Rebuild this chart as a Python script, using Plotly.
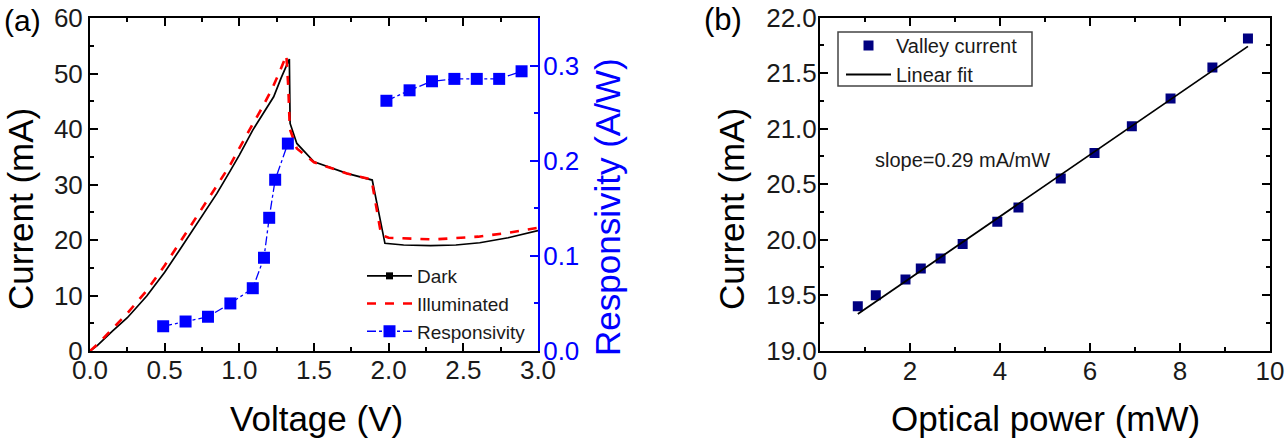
import plotly.graph_objects as go

# ---------------- data: panel (a) ----------------
v_dark = [0, 0.05, 0.15, 0.25, 0.38, 0.5, 0.6, 0.7, 0.78, 0.85, 0.94, 1.0, 1.09, 1.15, 1.23,
          1.28, 1.335, 1.34, 1.385, 1.5, 1.72, 1.89,
          1.975, 2.1, 2.28, 2.45, 2.61, 2.8, 3.0]
i_dark = [0, 1.0, 3.6, 6.0, 9.9, 14.2, 18.2, 22.2, 25.4, 28.4, 32.5, 35.3, 39.8, 42.4, 45.8,
          49.2, 52.6, 41.0, 37.4, 34.1, 32.0, 30.8,
          19.4, 19.1, 19.0, 19.1, 19.5, 20.4, 21.7]

v_ill = [0, 0.05, 0.15, 0.25, 0.38, 0.5, 0.6, 0.7, 0.78, 0.85, 0.94, 1.0, 1.09, 1.15, 1.22,
         1.27, 1.315, 1.328, 1.338, 1.385, 1.5, 1.72,
         1.885, 1.95, 2.0, 2.3, 2.6, 2.8, 3.0]
i_ill = [0, 1.2, 4.0, 6.8, 10.9, 15.4, 19.5, 23.6, 26.7, 29.8, 33.6, 36.6, 40.9, 43.7, 47.3,
         50.3, 53.3, 47.5, 40.0, 36.5, 34.0, 32.0,
         30.9, 20.9, 20.4, 20.1, 20.6, 21.3, 22.2]

v_resp = [0.49, 0.64, 0.79, 0.94, 1.09, 1.165, 1.2, 1.24, 1.325, 1.65,
          1.985, 2.14, 2.29, 2.44, 2.59, 2.74, 2.89]
resp = [0.026, 0.031, 0.036, 0.050, 0.066, 0.098, 0.140, 0.180, 0.218, None,
        0.263, 0.274, 0.2835, 0.286, 0.286, 0.286, 0.294]

# ---------------- data: panel (b) ----------------
power = [0.84, 1.24, 1.90, 2.24, 2.68, 3.17, 3.94, 4.41, 5.35, 6.10, 6.93, 7.79, 8.72, 9.51]
valley = [19.40, 19.50, 19.64, 19.74, 19.83, 19.96, 20.16, 20.29, 20.55, 20.78, 21.02,
          21.27, 21.55, 21.81]
fit_x = [0.84, 9.51]
fit_y = [19.33, 21.74]

xa_ticks = [0.0, 0.5, 1.0, 1.5, 2.0, 2.5, 3.0]
ya_ticks = [0, 10, 20, 30, 40, 50, 60]
y2_ticks = [0.0, 0.1, 0.2, 0.3]
xb_ticks = [0, 2, 4, 6, 8, 10]
yb_ticks = [19.0, 19.5, 20.0, 20.5, 21.0, 21.5, 22.0]

W, H = 1286, 446
FONT = "Liberation Sans, Arial, sans-serif"
BLUE = "#0000ff"
NAVY = "#000080"

def px_x(p):
    return p / W

def px_y(p):
    return 1 - p / H

fig = go.Figure()

fig.add_trace(go.Scatter(x=v_dark, y=i_dark, mode="lines", line=dict(color="black", width=1.7),
                         showlegend=False, xaxis="x", yaxis="y"))
fig.add_trace(go.Scatter(x=[None], y=[None], mode="lines+markers", name="Dark",
                         line=dict(color="black", width=1.7),
                         marker=dict(symbol="square", size=7, color="black"),
                         legend="legend", xaxis="x", yaxis="y"))
fig.add_trace(go.Scatter(x=v_ill, y=i_ill, mode="lines", name="Illuminated",
                         line=dict(color="#ff0000", width=2.6, dash="dash"),
                         legend="legend", xaxis="x", yaxis="y"))
fig.add_trace(go.Scatter(x=v_resp, y=resp, mode="lines+markers", name="Responsivity",
                         line=dict(color=BLUE, width=1.3, dash="dashdot"),
                         marker=dict(symbol="square", size=12, color=BLUE),
                         connectgaps=False, legend="legend", xaxis="x", yaxis="y2"))

fig.add_trace(go.Scatter(x=power, y=valley, mode="markers", name="Valley current",
                         marker=dict(symbol="square", size=10, color=NAVY),
                         legend="legend2", xaxis="x2", yaxis="y3"))
fig.add_trace(go.Scatter(x=fit_x, y=fit_y, mode="lines", name="Linear fit",
                         line=dict(color="black", width=1.8),
                         legend="legend2", xaxis="x2", yaxis="y3"))

TS = 26
tickfont = dict(family=FONT, size=TS, color="#1a1a1a")
common = dict(showgrid=False, zeroline=False, showline=True, linewidth=2, linecolor="black",
              ticks="inside", ticklen=8, tickwidth=2, tickcolor="black", tickfont=tickfont,
              automargin=False)

dom_ya = [px_y(351), px_y(18)]
dom_yb = [px_y(350.7), px_y(17.5)]

fig.update_layout(
    width=W, height=H, autosize=False,
    margin=dict(l=0, r=0, t=0, b=0, pad=0, autoexpand=False),
    paper_bgcolor="white", plot_bgcolor="white",
    font=dict(family=FONT, color="black"),
    xaxis=dict(domain=[px_x(90), px_x(538)], range=[0, 3], tickvals=xa_ticks,
               tickformat=".1f", anchor="y", mirror="ticks",
               minor=dict(dtick=0.25, ticks="inside", ticklen=4, tickwidth=1.5, tickcolor="black"),
               ticklabelstandoff=-5, **common),
    yaxis=dict(domain=dom_ya, range=[0, 60], tickvals=ya_ticks, anchor="x",
               minor=dict(dtick=5, ticks="inside", ticklen=4, tickwidth=1.5, tickcolor="black"),
               ticklabelstandoff=0, **common),
    yaxis2=dict(domain=dom_ya, range=[0, 0.35], tickvals=y2_ticks, tickformat=".1f",
                overlaying="y", side="right", anchor="x", automargin=False,
                showgrid=False, zeroline=False, showline=True, linewidth=2, linecolor=BLUE,
                ticks="inside", ticklen=8, tickwidth=2, tickcolor=BLUE,
                tickfont=dict(family=FONT, size=TS, color=BLUE),
                minor=dict(dtick=0.05, ticks="inside", ticklen=4, tickwidth=1.5, tickcolor=BLUE),
                ticklabelstandoff=-2),
    xaxis2=dict(domain=[px_x(820), px_x(1270)], range=[0, 10], tickvals=xb_ticks,
                anchor="y3", mirror="ticks",
                minor=dict(dtick=1, ticks="inside", ticklen=4, tickwidth=1.5, tickcolor="black"),
                ticklabelstandoff=-4, **common),
    yaxis3=dict(domain=dom_yb, range=[19, 22], tickvals=yb_ticks, tickformat=".1f",
                anchor="x2", mirror="ticks",
                minor=dict(dtick=0.25, ticks="inside", ticklen=4, tickwidth=1.5, tickcolor="black"),
                ticklabelstandoff=-4, **common),
    legend=dict(x=px_x(362), y=px_y(257), xanchor="left", yanchor="top",
                bgcolor="rgba(0,0,0,0)", borderwidth=0, itemwidth=45,
                font=dict(family=FONT, size=19, color="#1a1a1a"),
                tracegroupgap=0),
    legend2=dict(x=px_x(841), y=px_y(26), xanchor="left", yanchor="top",
                 bgcolor="rgba(0,0,0,0)", borderwidth=0, itemwidth=45,
                 font=dict(family=FONT, size=20, color="#1a1a1a"),
                 tracegroupgap=0),
)

# legend frame of panel (b)
fig.add_shape(type="rect", xref="paper", yref="paper",
              x0=px_x(838), x1=px_x(1032), y0=px_y(86), y1=px_y(32),
              line=dict(color="#444", width=1.5), fillcolor="rgba(0,0,0,0)", layer="below")

def ann(text, x, y, size, angle=0, color="black"):
    fig.add_annotation(text=text, x=px_x(x), y=px_y(y), xref="paper", yref="paper",
                       showarrow=False, textangle=angle, xanchor="center", yanchor="middle",
                       font=dict(family=FONT, size=size, color=color))

ann("Current (mA)", 20, 209, 35, -90)
ann("Voltage (V)", 316, 418, 35)
ann("Responsivity (A/W)", 607, 207, 35, -90, BLUE)
ann("Current (mA)", 731, 209, 35, -90)
ann("Optical power (mW)", 1045, 418, 35)
ann("(a)", 22, 20, 30)
ann("(b)", 723, 19, 31)
ann("slope=0.29 mA/mW", 962, 160, 20, 0, "#1a1a1a")

fig.write_html("out.html")
